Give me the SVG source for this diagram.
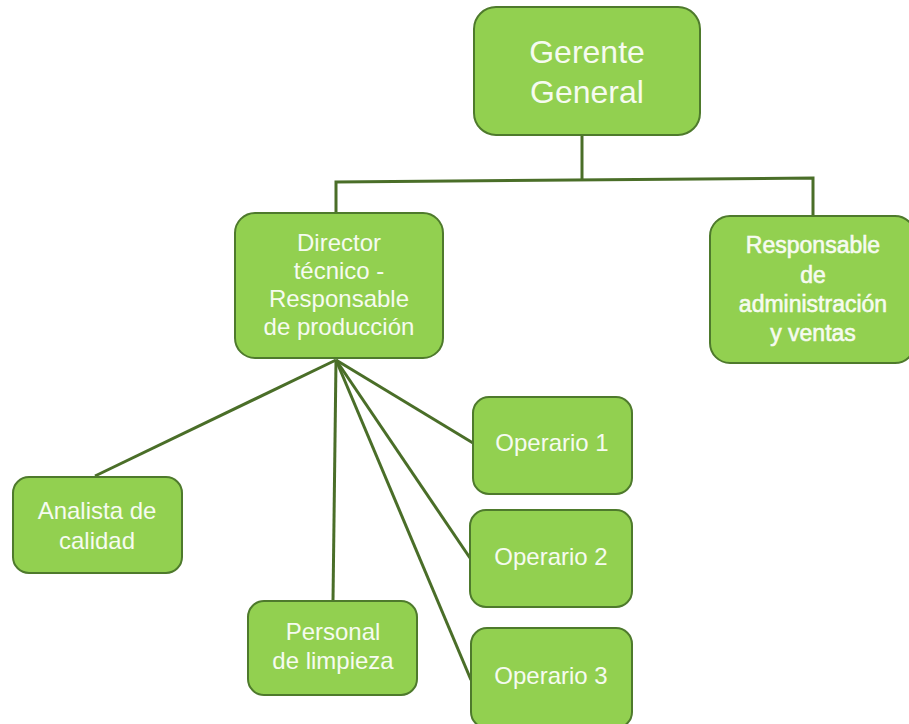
<svg xmlns="http://www.w3.org/2000/svg" width="909" height="724" viewBox="0 0 909 724">
<style>
.box{fill:#92D050;stroke:#4E7A2C;stroke-width:2}
.t{font-family:"Liberation Sans",Arial,sans-serif;font-size:24px;fill:#F6FBF0;text-anchor:middle}
.b{font-size:23px;stroke:#F6FBF0;stroke-width:0.6}
.big{font-size:32px}
.c{stroke:#4A6E28;stroke-width:3;fill:none}
</style>
<rect width="909" height="724" fill="#FFFFFF"/>
<g id="connectors">
<polyline class="c" points="582,135 582,180"/>
<polyline class="c" points="336,213 336,182 813,178 813,216"/>
<line class="c" x1="336" y1="360" x2="95" y2="476"/>
<line class="c" x1="336" y1="360" x2="333" y2="601"/>
<line class="c" x1="336" y1="360" x2="473" y2="443"/>
<line class="c" x1="336" y1="360" x2="470" y2="558"/>
<line class="c" x1="336" y1="360" x2="471" y2="680"/>
</g>
<g id="gerente">
<rect class="box" x="474" y="7" width="226" height="128" rx="22"/>
<text class="t big" x="587" y="63">Gerente</text>
<text class="t big" x="587" y="103">General</text>
</g>
<g id="director">
<rect class="box" x="235" y="213" width="208" height="145" rx="20"/>
<text class="t" x="339" y="251">Director</text>
<text class="t" x="339" y="279">técnico -</text>
<text class="t" x="339" y="307">Responsable</text>
<text class="t" x="339" y="335">de producción</text>
</g>
<g id="responsable">
<rect class="box" x="710" y="216" width="205" height="147" rx="20"/>
<text class="t b" x="813" y="253">Responsable</text>
<text class="t b" x="813" y="283">de</text>
<text class="t b" x="813" y="312">administración</text>
<text class="t b" x="813" y="341">y ventas</text>
</g>
<g id="analista">
<rect class="box" x="13" y="477" width="169" height="96" rx="16"/>
<text class="t" x="97" y="519">Analista de</text>
<text class="t" x="97" y="549">calidad</text>
</g>
<g id="personal">
<rect class="box" x="248" y="601" width="169" height="94" rx="16"/>
<text class="t" x="333" y="640">Personal</text>
<text class="t" x="333" y="669">de limpieza</text>
</g>
<g id="operario1">
<rect class="box" x="473" y="397" width="159" height="97" rx="16"/>
<text class="t" x="552" y="451">Operario 1</text>
</g>
<g id="operario2">
<rect class="box" x="470" y="510" width="162" height="97" rx="16"/>
<text class="t" x="551" y="565">Operario 2</text>
</g>
<g id="operario3">
<rect class="box" x="471" y="628" width="161" height="100" rx="16"/>
<text class="t" x="551" y="684">Operario 3</text>
</g>
</svg>
